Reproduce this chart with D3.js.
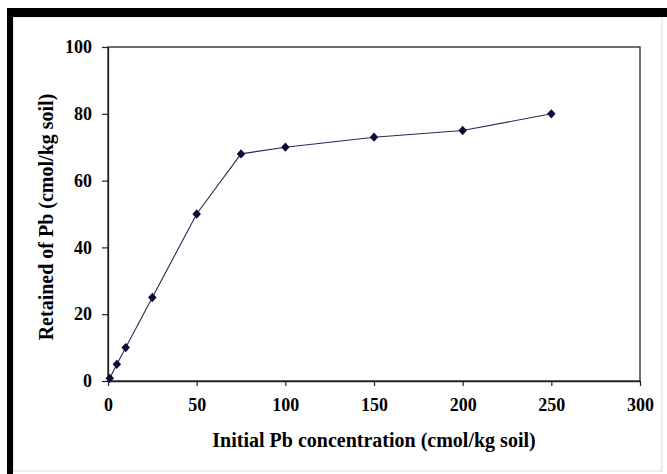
<!DOCTYPE html>
<html>
<head>
<meta charset="utf-8">
<script src="https://cdn.jsdelivr.net/npm/d3@7"></script>
<style>
  html, body { margin: 0; padding: 0; background: #fff; }
  svg { display: block; }
</style>
</head>
<body>
<svg id="chart" width="667" height="474"></svg>
<script>
// Lead retention versus initial concentration
const concentration = [1, 5, 10, 25, 50, 75, 100, 150, 200, 250];
const retained = [0.8, 5, 10, 25, 50, 68, 70, 73, 75, 80];
const xTicks = [0, 50, 100, 150, 200, 250, 300];
const yTicks = [0, 20, 40, 60, 80, 100];
const xTitle = "Initial Pb concentration (cmol/kg soil)";
const yTitle = "Retained of Pb  (cmol/kg soil)";

const W = 667, H = 474;
const plot = { left: 108, right: 640, top: 47, bottom: 381 };
const font = "'Liberation Serif', 'Times New Roman', serif";
const ink = "#0c0c3a";

const svg = d3.select("#chart");

// outer frame: heavy black bars on top and left, faint edge on the others
svg.append("rect").attr("x", 13).attr("y", 17).attr("width", 649).attr("height", 454)
  .attr("fill", "#fff").attr("stroke", "#d8d8d8").attr("stroke-width", 1);
svg.append("rect").attr("x", 7).attr("y", 8).attr("width", W - 7).attr("height", 9).attr("fill", "#000");
svg.append("rect").attr("x", 7).attr("y", 8).attr("width", 6).attr("height", H - 8).attr("fill", "#000");

const x = d3.scaleLinear().domain([0, 300]).range([plot.left, plot.right]);
const y = d3.scaleLinear().domain([0, 100]).range([plot.bottom, plot.top]);

// plot area border
svg.append("rect")
  .attr("x", plot.left).attr("y", plot.top)
  .attr("width", plot.right - plot.left).attr("height", plot.bottom - plot.top)
  .attr("fill", "none").attr("stroke", "#222").attr("stroke-width", 1.3);

const xAxis = svg.append("g")
  .attr("transform", `translate(0,${plot.bottom})`)
  .call(d3.axisBottom(x).tickValues(xTicks).tickSizeInner(5).tickSizeOuter(0).tickPadding(12));
const yAxis = svg.append("g")
  .attr("transform", `translate(${plot.left},0)`)
  .call(d3.axisLeft(y).tickValues(yTicks).tickSizeInner(6).tickSizeOuter(0).tickPadding(10));

[xAxis, yAxis].forEach(g => {
  g.select(".domain").attr("stroke", "#222").attr("stroke-width", 1.3);
  g.selectAll(".tick line").attr("stroke", "#222").attr("stroke-width", 1.2);
  g.selectAll(".tick text")
    .attr("fill", "#000")
    .style("font-family", font)
    .style("font-weight", "bold")
    .style("font-size", "18px");
});

// series line
svg.append("path")
  .datum(concentration.map((c, i) => [c, retained[i]]))
  .attr("fill", "none")
  .attr("stroke", "#2a2a55")
  .attr("stroke-width", 1.1)
  .attr("d", d3.line().x(d => x(d[0])).y(d => y(d[1])));

// diamond markers (square rotated 45°)
const diamond = d3.symbol().type(d3.symbolDiamond2 || d3.symbolDiamond).size(46);
svg.selectAll(".pt")
  .data(concentration.map((c, i) => [c, retained[i]]))
  .join("path")
  .attr("class", "pt")
  .attr("transform", d => `translate(${x(d[0])},${y(d[1])}) scale(1,1.1)`)
  .attr("d", diamond)
  .attr("fill", ink);

// axis titles
svg.append("text")
  .attr("x", (plot.left + plot.right) / 2)
  .attr("y", 447)
  .attr("text-anchor", "middle")
  .style("font-family", font)
  .style("font-weight", "bold")
  .style("font-size", "20px")
  .text(xTitle);

svg.append("text")
  .attr("transform", `translate(53,${(plot.top + plot.bottom) / 2 + 3}) rotate(-90)`)
  .attr("text-anchor", "middle")
  .style("font-family", font)
  .style("font-weight", "bold")
  .style("font-size", "20px")
  .text(yTitle);
</script>
</body>
</html>
